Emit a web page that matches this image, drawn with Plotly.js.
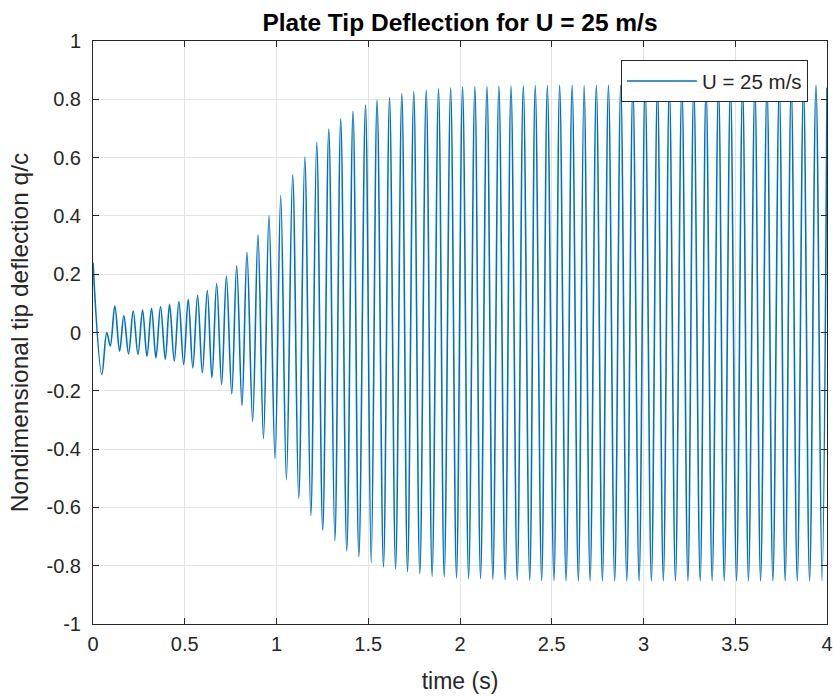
<!DOCTYPE html>
<html>
<head>
<meta charset="utf-8">
<script src="https://cdn.plot.ly/plotly-3.0.1.min.js"></script>
<style>
  html, body { margin: 0; padding: 0; background: #ffffff; }
  #chart { width: 833px; height: 696px; }
</style>
</head>
<body>
<div id="chart"></div>
<script>
// Successive extrema of the tip-deflection signal
const timeS = [
  0.000, 0.048, 0.075, 0.094, 0.119, 0.145, 0.168, 0.194, 0.219, 0.245,
  0.270, 0.294, 0.319, 0.343, 0.368, 0.394, 0.417, 0.443, 0.468, 0.494,
  0.519, 0.544, 0.570, 0.596, 0.623, 0.648, 0.674, 0.701, 0.727, 0.756,
  0.783, 0.812, 0.839, 0.870, 0.899, 0.929, 0.959, 0.992, 1.023, 1.054,
  1.088, 1.121, 1.154, 1.187, 1.219, 1.252, 1.285, 1.318, 1.350, 1.383,
  1.417, 1.449, 1.485, 1.516, 1.548, 1.583, 1.616, 1.649, 1.683, 1.714,
  1.748, 1.781, 1.816, 1.848, 1.883, 1.914, 1.949, 1.981, 2.014, 2.047,
  2.081, 2.112, 2.147, 2.179, 2.212, 2.246, 2.278, 2.312, 2.345, 2.380,
  2.410, 2.445, 2.476, 2.512, 2.543, 2.578, 2.611, 2.645, 2.676, 2.709,
  2.743, 2.776, 2.809, 2.843, 2.876, 2.909, 2.942, 2.976, 3.009, 3.043,
  3.076, 3.108, 3.141, 3.174, 3.209, 3.242, 3.274, 3.309, 3.341, 3.374,
  3.409, 3.440, 3.474, 3.507, 3.540, 3.572, 3.607, 3.638, 3.673, 3.705,
  3.740, 3.772, 3.805, 3.838, 3.872, 3.905, 3.940, 3.973, 4.000
];
const deflection = [
  0.240, -0.144, 0.000, -0.046, 0.091, -0.064, 0.057, -0.073, 0.074, -0.075,
  0.077, -0.081, 0.083, -0.087, 0.089, -0.092, 0.097, -0.098, 0.106, -0.110,
  0.114, -0.121, 0.128, -0.138, 0.145, -0.156, 0.168, -0.178, 0.194, -0.211,
  0.229, -0.250, 0.275, -0.305, 0.335, -0.364, 0.401, -0.433, 0.470, -0.505,
  0.541, -0.569, 0.602, -0.628, 0.653, -0.678, 0.698, -0.715, 0.733, -0.749,
  0.759, -0.769, 0.780, -0.790, 0.797, -0.804, 0.806, -0.812, 0.820, -0.821,
  0.826, -0.827, 0.831, -0.836, 0.836, -0.838, 0.839, -0.842, 0.843, -0.844,
  0.843, -0.844, 0.844, -0.847, 0.845, -0.848, 0.845, -0.849, 0.846, -0.850,
  0.847, -0.851, 0.847, -0.851, 0.848, -0.852, 0.848, -0.852, 0.848, -0.852,
  0.848, -0.852, 0.848, -0.852, 0.848, -0.852, 0.848, -0.852, 0.848, -0.852,
  0.848, -0.852, 0.848, -0.852, 0.848, -0.852, 0.848, -0.852, 0.848, -0.852,
  0.848, -0.852, 0.848, -0.852, 0.848, -0.852, 0.848, -0.852, 0.848, -0.852,
  0.848, -0.852, 0.848, -0.852, 0.848, -0.852, 0.848, -0.852, 0.840
];
const seriesName = "U = 25 m/s";
const xTickVals = [0, 0.5, 1, 1.5, 2, 2.5, 3, 3.5, 4];
const xTickText = ["0", "0.5", "1", "1.5", "2", "2.5", "3", "3.5", "4"];
const yTickVals = [-1, -0.8, -0.6, -0.4, -0.2, 0, 0.2, 0.4, 0.6, 0.8, 1];
const yTickText = ["-1", "-0.8", "-0.6", "-0.4", "-0.2", "0", "0.2", "0.4", "0.6", "0.8", "1"];

const FONT = "Liberation Sans, Arial, Helvetica, sans-serif";
const AXC = "#262626";

const trace = {
  x: timeS,
  y: deflection,
  type: "scatter",
  mode: "lines",
  name: seriesName,
  line: { color: "#0072BD", width: 1.6, shape: "spline", smoothing: 1 },
  showlegend: true
};

const axisCommon = {
  showline: true, linecolor: AXC, linewidth: 1, mirror: "ticks",
  ticks: "inside", ticklen: 6, tickcolor: AXC, tickwidth: 1,
  showgrid: true, gridcolor: "#e3e3e3", gridwidth: 1,
  zeroline: false,
  tickfont: { family: FONT, size: 20, color: AXC },
  tickmode: "array"
};

const layout = {
  width: 833, height: 696,
  paper_bgcolor: "#ffffff", plot_bgcolor: "#ffffff",
  margin: { l: 93, r: 6, t: 41, b: 72, pad: 0 },
  title: {
    text: "<b>Plate Tip Deflection for U = 25 m/s</b>",
    font: { family: FONT, size: 24.5, color: "#000000" },
    x: 0.5, xref: "paper", xanchor: "center",
    y: 1 - 22 / 696, yref: "container", yanchor: "middle"
  },
  xaxis: Object.assign({}, axisCommon, {
    range: [0, 4], tickvals: xTickVals, ticktext: xTickText,
    ticklabelstandoff: 2,
    title: { text: "time (s)", font: { family: FONT, size: 23, color: AXC }, standoff: 18 }
  }),
  yaxis: Object.assign({}, axisCommon, {
    range: [-1, 1], tickvals: yTickVals, ticktext: yTickText,
    ticklabelstandoff: 7,
    title: { text: "Nondimensional tip deflection q/c", font: { family: FONT, size: 24.5, color: AXC }, standoff: 10 }
  }),
  legend: {
    x: 0.974, xanchor: "right", xref: "paper",
    y: 0.967, yanchor: "top", yref: "paper",
    bgcolor: "#ffffff", bordercolor: AXC, borderwidth: 1,
    font: { family: FONT, size: 20.5, color: AXC },
    itemwidth: 70
  },
  showlegend: true
};

Plotly.newPlot("chart", [trace], layout, { displayModeBar: false, staticPlot: true });
</script>
</body>
</html>
